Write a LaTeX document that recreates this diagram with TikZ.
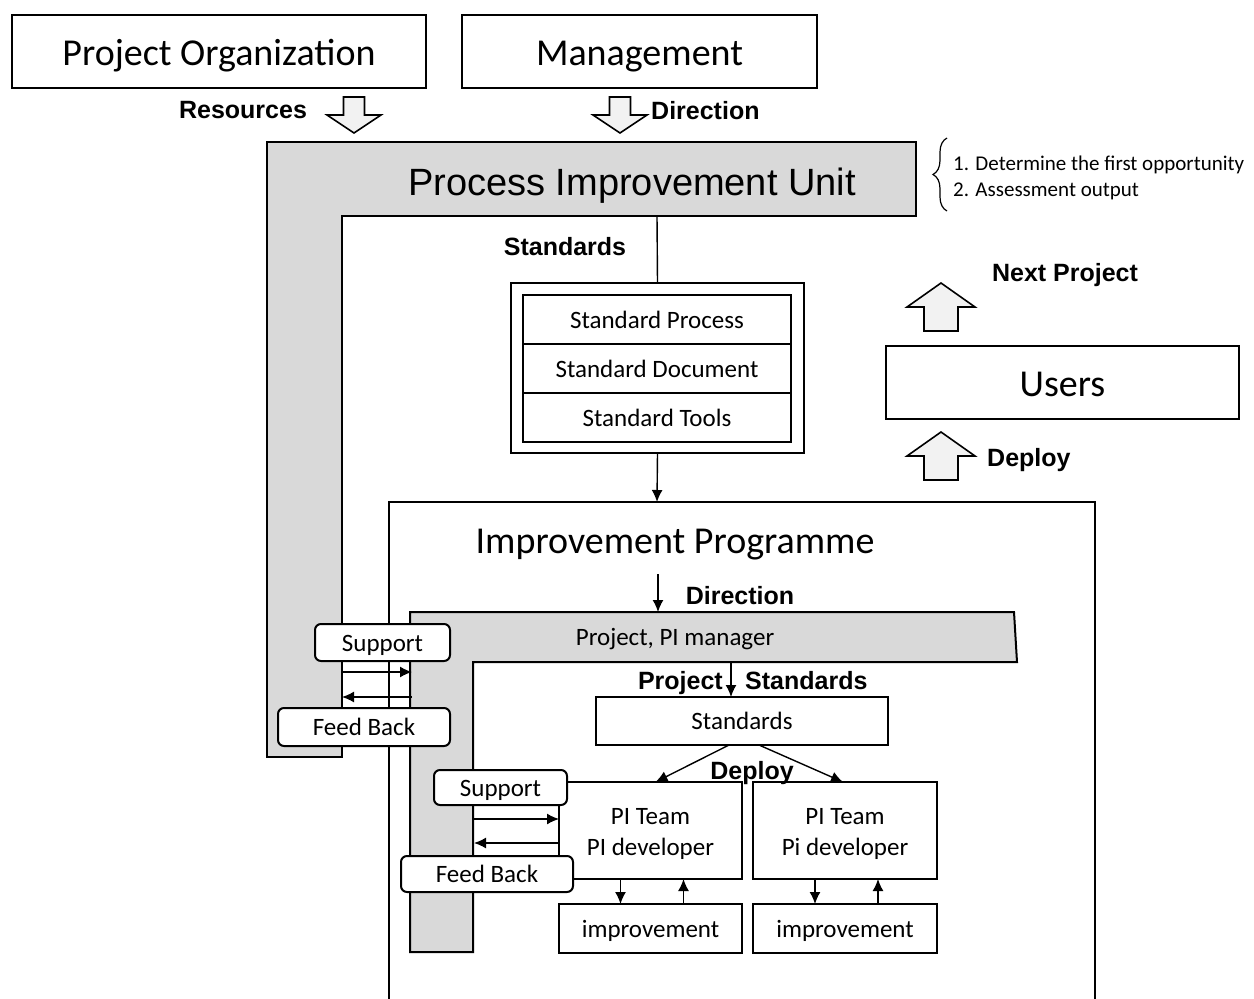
\documentclass[tikz,border=0pt]{standalone}
\usepackage{fontspec}
\setmainfont{Carlito}
\newfontfamily\arialfont{Liberation Sans}
\usetikzlibrary{positioning,arrows.meta,decorations.pathreplacing}

\begin{document}
\begin{tikzpicture}[
    x=1pt, y=-1pt,
    box/.style={draw, line width=2pt, align=center, inner sep=0pt, outer sep=0pt, font=\fontsize{25}{31}\selectfont},
    oneline/.style={text height=22pt, text depth=5pt},
    twoline/.style={text height=52pt, text depth=3pt},
    bigbox/.style={box, font=\fontsize{38}{44}\selectfont, text height=34pt, text depth=7pt},
    tag/.style={draw, line width=2pt, rounded corners=6pt, fill=white, inner sep=0pt, font=\fontsize{25}{30}\selectfont, oneline},
    band/.style={draw, line width=2pt, fill=black!15},
    lbl/.style={inner sep=0pt, font=\arialfont\bfseries\fontsize{25}{30}\selectfont, text height=23pt, text depth=5pt},
    plain/.style={inner sep=0pt, font=\fontsize{25}{30}\selectfont, oneline},
    fatarrow/.style={draw, line width=1.6pt, fill=black!5},
    arrow/.style={-{Latex[length=12pt,width=11pt]}, line width=1.4pt},
    fatdown/.pic={\draw[fatarrow] (-10.5,0) -- (10.5,0) -- (10.5,18) -- (27,18) -- (0,36) -- (-27,18) -- (-10.5,18) -- cycle;},
    fatup/.pic={\draw[fatarrow] (-17,0) -- (17,0) -- (17,-24) -- (34,-24) -- (0,-48) -- (-34,-24) -- (-17,-24) -- cycle;},
  ]
    \useasboundingbox (0,0) rectangle (1254,999);

    % top row
    \node[bigbox, minimum width=414pt, minimum height=73pt] (porg) at (219,51.5) {Project Organization};
    \node[bigbox, minimum width=355pt, minimum height=73pt] (mgmt) at (639.5,51.5) {Management};
    \pic at (354,97) {fatdown};
    \pic at (620,97) {fatdown};
    \node[lbl] (reslbl) at (243,109) {Resources};
    \node[lbl, anchor=west] (dirlbl) at (651,110) {Direction};

    % improvement programme (open at the bottom)
    \draw[line width=2pt] (389,1001) -- (389,502) -- (1095,502) -- (1095,1001);
    \node[inner sep=0pt, font=\fontsize{38}{44}\selectfont, text height=34pt, text depth=7pt] (iptitle) at (675,540) {Improvement Programme};

    % process improvement unit
    \draw[band] (267,142) -- (916,142) -- (916,216) -- (342,216) -- (342,757) -- (267,757) -- cycle;
    \node[inner sep=0pt, font=\arialfont\fontsize{38}{44}\selectfont, text height=34pt, text depth=7pt] (piu) at (632,182) {Process Improvement Unit};
    \draw[line width=1.2pt, decorate, decoration={brace, amplitude=14pt}] (947,211) -- (947,138);
    \node[anchor=west, align=left, inner sep=0pt, font=\fontsize{21}{26}\selectfont] (steps) at (953,178)
      {1. Determine the first opportunity\\2. Assessment output};

    % standards set
    \coordinate (piuout) at (657,216);
    \node[lbl] (stdlbl) at (565,246) {Standards};
    \node[box, minimum width=293pt, minimum height=170pt] (stdset) at (657.5,368) {};
    \node[box, oneline, minimum width=268pt, minimum height=49pt] (sproc) at (657,319.5) {Standard Process};
    \node[box, oneline, minimum width=268pt, minimum height=49pt, below=0pt of sproc] (sdoc) {Standard Document};
    \node[box, oneline, minimum width=268pt, minimum height=49pt, below=0pt of sdoc] (stool) {Standard Tools};
    \draw[line width=1.4pt] (piuout) -- (stdset.north);
    \coordinate (ipin) at (657,502);
    \draw[arrow] (stdset.south) -- (ipin);

    % users
    \node[bigbox, minimum width=353pt, minimum height=73pt] (users) at (1062.5,382.5) {Users};
    \pic at (941,331) {fatup};
    \pic at (941,480) {fatup};
    \node[lbl] (nextlbl) at (1065,272) {Next Project};
    \node[lbl, anchor=west] (deplbl) at (987,457) {Deploy};

    % project, PI manager
    \draw[band] (410,612) -- (1014,612) -- (1017,662) -- (473,662) -- (473,952) -- (410,952) -- cycle;
    \node[plain] (pm) at (675,637) {Project, PI manager};
    \coordinate (dirfrom) at (658,574);
    \coordinate (pmin) at (658,612);
    \draw[arrow] (dirfrom) -- (pmin);
    \node[lbl] (dir2lbl) at (740,595) {Direction};

    % project standards and teams
    \node[box, oneline, minimum width=292pt, minimum height=48pt] (stds) at (742,721) {Standards};
    \coordinate (pmout) at (731,662);
    \draw[arrow] (pmout) -- (pmout |- stds.north);
    \node[lbl, anchor=east] (projlbl) at (723,680) {Project};
    \node[lbl, anchor=west] (pstdlbl) at (745,680) {Standards};

    \node[box, twoline, minimum width=183pt, minimum height=97pt] (team1) at (650.5,830.5) {PI Team\\PI developer};
    \node[box, twoline, minimum width=184pt, minimum height=97pt, right=11pt of team1] (team2) {PI Team\\Pi developer};
    \node[box, oneline, minimum width=183pt, minimum height=49pt, below=25pt of team1] (imp1) {improvement};
    \node[box, oneline, minimum width=184pt, minimum height=49pt, below=25pt of team2] (imp2) {improvement};

    \draw[arrow] ([xshift=-13pt]stds.south) -- ([xshift=5pt]team1.north);
    \draw[arrow] ([xshift=17pt]stds.south) -- ([xshift=-2pt]team2.north);
    \node[lbl] (deploy2) at (752,770) {Deploy};

    \draw[arrow] ([xshift=-30pt]team1.south) -- ([xshift=-30pt]imp1.north);
    \draw[arrow] ([xshift=33pt]imp1.north) -- ([xshift=33pt]team1.south);
    \draw[arrow] ([xshift=-30pt]team2.south) -- ([xshift=-30pt]imp2.north);
    \draw[arrow] ([xshift=33pt]imp2.north) -- ([xshift=33pt]team2.south);

    % support and feed back
    \coordinate (sup1a) at (342,672);
    \coordinate (sup1b) at (412,672);
    \coordinate (fb1a) at (412,697);
    \coordinate (fb1b) at (342,697);
    \draw[arrow] (sup1a) -- (sup1b);
    \draw[arrow] (fb1a) -- (fb1b);
    \coordinate (sup2a) at (474,819);
    \coordinate (fb2b) at (474,843);
    \draw[arrow] (sup2a) -- (sup2a -| team1.west);
    \draw[arrow] (fb2b -| team1.west) -- (fb2b);

    \node[tag, minimum width=135pt, minimum height=37pt] (sup1) at (382.5,642.5) {Support};
    \node[tag, minimum width=172pt, minimum height=38pt] (fb1) at (364,727) {Feed Back};
    \node[tag, minimum width=133pt, minimum height=35pt] (sup2) at (500.5,787.5) {Support};
    \node[tag, minimum width=172pt, minimum height=36pt] (fb2) at (487,874) {Feed Back};
\end{tikzpicture}
\end{document}
